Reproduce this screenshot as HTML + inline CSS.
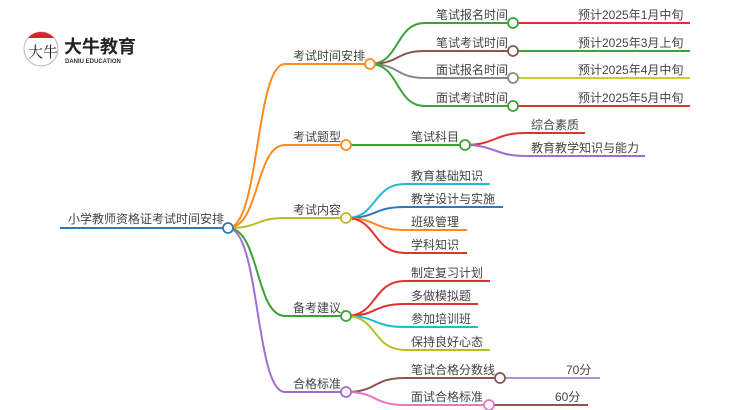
<!DOCTYPE html>
<html><head><meta charset="utf-8"><style>
html,body{margin:0;padding:0;background:#fff;}
svg{display:block}
text{font-family:"Liberation Sans","Noto Sans CJK SC",sans-serif;fill:#444;font-size:12px}
</style></head><body>
<svg width="750" height="410" viewBox="0 0 750 410" xmlns="http://www.w3.org/2000/svg">
<!-- logo -->
<circle cx="41" cy="49" r="17" fill="#fff" stroke="#bbb" stroke-width="1"/>
<path d="M28,38 A17,17 0 0 1 54,38 Z" fill="#d9232d"/>
<text x="28" y="57" style="font-size:15px;fill:#222;font-family:'Noto Serif CJK SC',serif">大牛</text>
<text x="64" y="53" style="font-size:18px;font-weight:bold;fill:#222">大牛教育</text>
<text x="65" y="63" style="font-size:6px;fill:#333;font-weight:bold">DANIU EDUCATION</text>

<g fill="none" stroke-width="2">
<path d="M60,228 H228" stroke="#2d7bbf"/>
<path d="M228,228 C260,228 255,64 285,64 H370" stroke="#ff8a1f"/>
<path d="M228,228 C260,228 255,145 285,145 H346" stroke="#ff8a1f"/>
<path d="M228,228 C260,228 255,218 285,218 H346" stroke="#bcbd22"/>
<path d="M228,228 C260,228 255,316 285,316 H346" stroke="#3aa335"/>
<path d="M228,228 C260,228 255,392 285,392 H346" stroke="#9e6fd0"/>
<path d="M370,64 C400,64 395,23 425,23 H513" stroke="#3aa335"/>
<path d="M370,64 C400,64 395,51 425,51 H513" stroke="#8c564b"/>
<path d="M370,64 C400,64 395,78 425,78 H513" stroke="#888"/>
<path d="M370,64 C400,64 395,106 425,106 H513" stroke="#3aa335"/>
<path d="M513,23 H690" stroke="#e0322f"/>
<path d="M513,51 H690" stroke="#3aa335"/>
<path d="M513,78 H690" stroke="#cccc33"/>
<path d="M513,106 H690" stroke="#e0322f"/>
<path d="M346,145 H465" stroke="#3aa335"/>
<path d="M465,145 C495,145 495,133 525,133 H585" stroke="#e0322f"/>
<path d="M465,145 C495,145 495,156 525,156 H645" stroke="#9e6fd0"/>
<path d="M346,218 C378,218 372,184 405,184 H490" stroke="#1fbcd2"/>
<path d="M346,218 C378,218 372,207 405,207 H503" stroke="#2d7bbf"/>
<path d="M346,218 C378,218 372,230 405,230 H467" stroke="#ff8a1f"/>
<path d="M346,218 C378,218 372,253 405,253 H467" stroke="#e0322f"/>
<path d="M346,316 C378,316 372,281 405,281 H490" stroke="#e0322f"/>
<path d="M346,316 C378,316 372,304 405,304 H478" stroke="#e0322f"/>
<path d="M346,316 C378,316 372,327 405,327 H478" stroke="#1fbcd2"/>
<path d="M346,316 C378,316 372,350 405,350 H490" stroke="#bcbd22"/>
<path d="M346,392 C378,392 372,378 405,378 H500" stroke="#8c564b"/>
<path d="M346,392 C378,392 372,405 405,405 H489" stroke="#e377c2"/>
<path d="M500,378 H600" stroke="#b48fd8"/>
<path d="M489,405 H588" stroke="#8c564b"/>
</g>
<g fill="#fff" stroke-width="1.8">
<circle cx="228" cy="228" r="5" stroke="#2d7bbf"/>
<circle cx="370" cy="64" r="5" stroke="#ff8a1f"/>
<circle cx="346" cy="145" r="5" stroke="#ff8a1f"/>
<circle cx="346" cy="218" r="5" stroke="#bcbd22"/>
<circle cx="346" cy="316" r="5" stroke="#3aa335"/>
<circle cx="346" cy="392" r="5" stroke="#9e6fd0"/>
<circle cx="513" cy="23" r="5" stroke="#3aa335"/>
<circle cx="513" cy="51" r="5" stroke="#8c564b"/>
<circle cx="513" cy="78" r="5" stroke="#888"/>
<circle cx="513" cy="106" r="5" stroke="#3aa335"/>
<circle cx="465" cy="145" r="5" stroke="#3aa335"/>
<circle cx="500" cy="378" r="5" stroke="#8c564b"/>
<circle cx="489" cy="405" r="5" stroke="#e377c2"/>
</g>
<text x="68" y="223">小学教师资格证考试时间安排</text>
<text x="293" y="60">考试时间安排</text>
<text x="293" y="141">考试题型</text>
<text x="293" y="214">考试内容</text>
<text x="293" y="312">备考建议</text>
<text x="293" y="388">合格标准</text>
<text x="436" y="19">笔试报名时间</text>
<text x="436" y="47">笔试考试时间</text>
<text x="436" y="74">面试报名时间</text>
<text x="436" y="102">面试考试时间</text>
<text x="578" y="19">预计2025年1月中旬</text>
<text x="578" y="47">预计2025年3月上旬</text>
<text x="578" y="74">预计2025年4月中旬</text>
<text x="578" y="102">预计2025年5月中旬</text>
<text x="411" y="141">笔试科目</text>
<text x="531" y="129">综合素质</text>
<text x="531" y="152">教育教学知识与能力</text>
<text x="411" y="180">教育基础知识</text>
<text x="411" y="203">教学设计与实施</text>
<text x="411" y="226">班级管理</text>
<text x="411" y="249">学科知识</text>
<text x="411" y="277">制定复习计划</text>
<text x="411" y="300">多做模拟题</text>
<text x="411" y="323">参加培训班</text>
<text x="411" y="346">保持良好心态</text>
<text x="411" y="374">笔试合格分数线</text>
<text x="411" y="401">面试合格标准</text>
<text x="566" y="374">70分</text>
<text x="555" y="401">60分</text>
</svg>
</body></html>
